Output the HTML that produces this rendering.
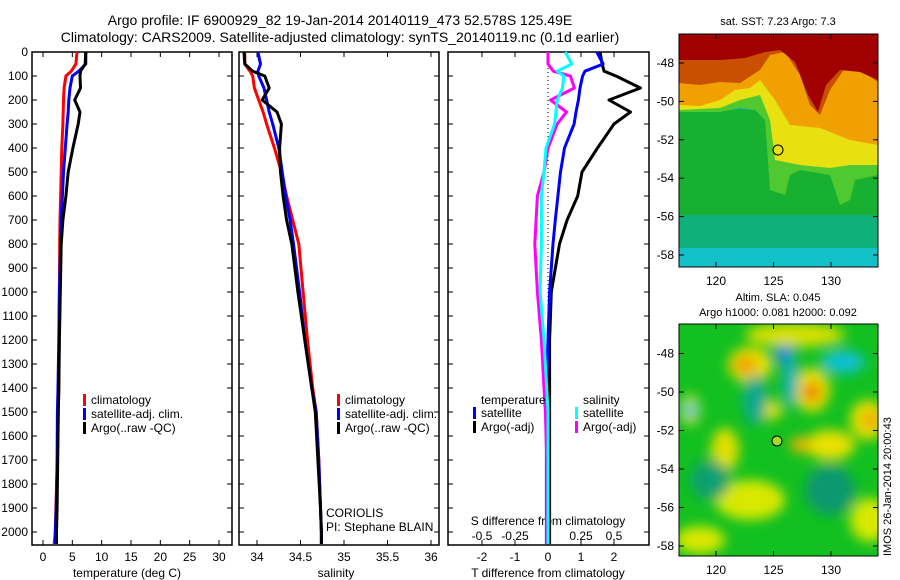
<!DOCTYPE html>
<html><head><meta charset="utf-8">
<style>
html,body{margin:0;padding:0;background:#fff;}
svg{display:block;font-family:"Liberation Sans",sans-serif;}
text{font-size:12px;fill:#000;}
</style></head>
<body>
<svg id="fig" width="900" height="580" viewBox="0 0 900 580" xmlns="http://www.w3.org/2000/svg">
<defs>
<filter id="blur6" x="-30%" y="-30%" width="160%" height="160%"><feGaussianBlur stdDeviation="6"/></filter>
<filter id="blur2"><feGaussianBlur stdDeviation="1.5"/></filter>
<clipPath id="clipTop"><rect x="679" y="34" width="199" height="233"/></clipPath>
<clipPath id="clipBot"><rect x="679" y="324" width="199" height="232"/></clipPath>
</defs>
<text x="340" y="25" text-anchor="middle" style="font-size:14px">Argo profile: IF 6900929_82 19-Jan-2014 20140119_473 52.578S 125.49E</text>
<text x="340" y="42" text-anchor="middle" style="font-size:14px">Climatology: CARS2009. Satellite-adjusted climatology: synTS_20140119.nc (0.1d earlier)</text>

<!-- SST map -->
<g clip-path="url(#clipTop)">
<rect x="679" y="34" width="199" height="233" fill="#10b07a"/>
<rect x="679" y="248" width="199" height="19" fill="#14c0c8"/>
<path d="M679 110 L878 110 L878 215 L679 215Z" fill="#18b030"/>
<path d="M679 112 L720 112 L740 108 L755 110 L765 120 L770 190 L785 195 L790 175 L800 170 L830 175 L840 205 L850 200 L855 180 L878 175 L878 34 L679 34Z" fill="#50c830"/>
<path d="M679 110 L720 108 L740 100 L760 95 L770 120 L775 160 L800 165 L830 168 L850 165 L878 165 L878 34 L679 34Z" fill="#e8e010"/>
<path d="M679 105 L700 106 L720 100 L735 90 L750 88 L760 80 L775 100 L790 125 L820 128 L850 140 L878 145 L878 34 L679 34Z" fill="#f0a000"/>
<path d="M679 83 L700 85 L720 82 L740 83 L760 70 L770 55 L785 52 L800 75 L810 105 L820 115 L830 90 L845 68 L860 70 L878 82 L878 34 L679 34Z" fill="#c85000"/>
<path d="M679 60 L720 60 L745 58 L765 52 L780 50 L795 62 L808 95 L818 112 L826 85 L840 70 L860 72 L878 80 L878 34 L679 34Z" fill="#a00000"/>
</g>
<rect x="679" y="34" width="199" height="233" fill="none" stroke="#000"/>
<circle cx="778" cy="150" r="5" fill="none" stroke="#000"/>
<text x="778" y="25" text-anchor="middle" style="font-size:11px">sat. SST: 7.23 Argo: 7.3</text>
<text x="778" y="301" text-anchor="middle" style="font-size:11px">Altim. SLA: 0.045</text>
<text x="778" y="316" text-anchor="middle" style="font-size:11px">Argo h1000: 0.081 h2000: 0.092</text>

<!-- SLA map -->
<g clip-path="url(#clipBot)">
<rect x="679" y="324" width="199" height="232" fill="#12c020"/>
<g filter="url(#blur6)">
<ellipse cx="750" cy="365" rx="22" ry="18" fill="#e8e000"/>
<ellipse cx="745" cy="365" rx="12" ry="9" fill="#f0a000"/>
<ellipse cx="812" cy="390" rx="18" ry="22" fill="#e8e000"/>
<ellipse cx="812" cy="392" rx="9" ry="10" fill="#f08000"/>
<ellipse cx="868" cy="420" rx="18" ry="20" fill="#e8e000"/>
<ellipse cx="870" cy="420" rx="8" ry="9" fill="#f0a000"/>
<ellipse cx="795" cy="335" rx="50" ry="12" fill="#d8e000"/>
<ellipse cx="830" cy="445" rx="25" ry="15" fill="#e8e000"/>
<ellipse cx="800" cy="445" rx="10" ry="8" fill="#f0b000"/>
<ellipse cx="725" cy="450" rx="14" ry="22" fill="#e0e000"/>
<ellipse cx="770" cy="410" rx="12" ry="10" fill="#e0e000"/>
<ellipse cx="750" cy="500" rx="35" ry="20" fill="#d8e800"/>
<ellipse cx="690" cy="410" rx="10" ry="15" fill="#e0e000"/>
<ellipse cx="700" cy="540" rx="25" ry="14" fill="#d8e800"/>
<ellipse cx="870" cy="520" rx="20" ry="22" fill="#d8e800"/>
<ellipse cx="785" cy="355" rx="10" ry="10" fill="#1080e0"/>
<ellipse cx="790" cy="380" rx="8" ry="28" fill="#10b0b0"/>
<ellipse cx="843" cy="362" rx="22" ry="12" fill="#10c0d0"/>
<ellipse cx="690" cy="410" rx="8" ry="8" fill="#20c8c8"/>
<ellipse cx="755" cy="400" rx="12" ry="25" fill="#10a890"/>
<ellipse cx="830" cy="490" rx="25" ry="25" fill="#109870"/>
<ellipse cx="710" cy="480" rx="20" ry="20" fill="#10a070"/>
</g>
</g>
<rect x="679" y="324" width="199" height="232" fill="none" stroke="#000"/>
<circle cx="777" cy="441" r="5" fill="#a0e020" stroke="#000"/>
<text transform="translate(891,556) rotate(-90)" style="font-size:11px">IMOS 26-Jan-2014 20:00:43</text>

<g id="plots"></g>
</svg>
<script>
// Profile data
const depths   = [0, 50, 80, 100, 150, 200, 250, 300, 400, 500, 600, 700, 800, 1000, 1200, 1400, 1500, 1700, 1900, 2000, 2050];
const tempClim = [5.8, 5.6, 4.8, 3.9, 3.6, 3.5, 3.45, 3.4, 3.2, 3.1, 3.0, 2.9, 2.85, 2.8, 2.75, 2.7, 2.6, 2.45, 2.2, 2.1, 1.9];
const tempSat  = [7.3, 7.3, 6.1, 5.0, 4.6, 4.4, 4.3, 4.1, 3.8, 3.5, 3.3, 3.1, 3.0, 2.8, 2.7, 2.55, 2.45, 2.4, 2.25, 2.1, 2.1];
const tempArgo = [7.3, 7.2, 6.4, 6.3, 6.4, 5.4, 6.3, 6.0, 5.1, 4.3, 3.9, 3.4, 3.1, 2.95, 2.8, 2.7, 2.6, 2.5, 2.4, 2.3, 2.3];
const salClim  = [33.86, 33.86, 33.92, 33.95, 33.97, 34.02, 34.07, 34.11, 34.20, 34.28, 34.34, 34.41, 34.48, 34.53, 34.58, 34.64, 34.68, 34.71, 34.73, 34.74, 34.74];
const salSat   = [34.01, 34.04, 34.01, 34.02, 34.08, 34.11, 34.14, 34.18, 34.25, 34.29, 34.33, 34.38, 34.42, 34.49, 34.55, 34.63, 34.68, 34.71, 34.73, 34.74, 34.74];
const salArgo  = [33.85, 33.86, 33.95, 34.09, 34.14, 34.06, 34.23, 34.28, 34.26, 34.27, 34.30, 34.34, 34.40, 34.47, 34.55, 34.63, 34.67, 34.70, 34.73, 34.74, 34.74];
const dtSat    = [1.48, 1.67, 1.12, 1.05, 0.97, 0.92, 0.85, 0.79, 0.5, 0.38, 0.3, 0.22, 0.15, 0.05, 0.0, -0.05, -0.05, -0.05, -0.05, -0.05, -0.05];
const dtArgo   = [1.58, 1.64, 1.7, 2.06, 2.8, 1.85, 2.5, 2.0, 1.5, 1.03, 0.9, 0.58, 0.35, 0.1, 0.05, 0.05, 0.05, 0.05, 0.05, 0.05, 0.05];
const dsSat    = [0.13, 0.18, 0.07, 0.12, 0.11, 0.07, 0.06, 0.05, -0.015, -0.03, -0.05, -0.05, -0.05, -0.06, -0.03, -0.01, 0.0, 0.0, 0.0, 0.0, 0.0];
const dsArgo   = [0.0, 0.0, 0.04, 0.17, 0.2, 0.02, 0.14, 0.07, 0.0, -0.03, -0.08, -0.09, -0.1, -0.08, -0.05, -0.03, -0.02, -0.01, -0.01, -0.01, -0.01];
const depthTicks = [0,100,200,300,400,500,600,700,800,900,1000,1100,1200,1300,1400,1500,1600,1700,1800,1900,2000];
const tempTicks = [0,5,10,15,20,25,30];
const salTicks = [34,34.5,35,35.5,36];
const salTickLabels = ["34","34.5","35","35.5","36"];
const dtTicks = [-2,-1,0,1,2];
const dsTicks = [-0.5,-0.25,0,0.25,0.5];
const dsTickLabels = ["-0.5","-0.25","0","0.25","0.5"];

const NS = "http://www.w3.org/2000/svg";
const root = document.getElementById('plots');
const Y0 = 52, Y1 = 545;
function yD(d){ return 52 + d*0.24; }
function xT(t){ return 43 + t*5.867; }
function xS(s){ return 257 + (s-34)*87; }
function xDT(v){ return 548 + v*33; }
function xDS(v){ return 548 + v*132; }
function mk(tag, attrs, parent){ const e=document.createElementNS(NS,tag); for(const k in attrs) e.setAttribute(k,attrs[k]); (parent||root).appendChild(e); return e; }
function line(xs, xf, color, name){
  const pts = depths.map((d,i)=> xf(xs[i]).toFixed(1)+','+yD(d).toFixed(1)).join(' ');
  const el = mk('polyline',{points:pts,fill:'none',stroke:color,'stroke-width':3,'stroke-linejoin':'round'});
  
  
}
function txt(x,y,s,anchor,name,size){
  const el = mk('text',{x:x,y:y,'text-anchor':anchor||'start'});
  if(size) el.setAttribute('style','font-size:'+size+'px');
  el.textContent = s;
  
  
  return el;
}
function frame(x0,x1,name){
  const el = mk('rect',{x:x0,y:Y0,width:x1-x0,height:Y1-Y0,fill:'none',stroke:'#000','stroke-width':1.5});
  
  
  depthTicks.forEach(d=>{
    mk('line',{x1:x0,x2:x0+5,y1:yD(d),y2:yD(d),stroke:'#000'});
    mk('line',{x1:x1-5,x2:x1,y1:yD(d),y2:yD(d),stroke:'#000'});
  });
}
function legendEntry(x,y,color,label,name){
  mk('rect',{x:x,y:y-10,width:3,height:12,fill:color});
  txt(x+8,y,label,'start',name);
}

// Panel 1: temperature
frame(32,232,'temperature-panel');
depthTicks.forEach(d=> txt(28,yD(d)+4,String(d),'end','depth-tick-label'));
tempTicks.forEach(t=>{ mk('line',{x1:xT(t),x2:xT(t),y1:Y1,y2:Y1-5,stroke:'#000'}); mk('line',{x1:xT(t),x2:xT(t),y1:Y0,y2:Y0+5,stroke:'#000'}); txt(xT(t),561,String(t),'middle','temperature-tick-label'); });
txt(127,577,'temperature (deg C)','middle','temperature-axis-title');
line(tempClim,xT,'#ff0000','temp-climatology-line');
line(tempSat,xT,'#0000ff','temp-satellite-line');
line(tempArgo,xT,'#000000','temp-argo-line');
legendEntry(83,404,'#ff0000','climatology','legend-climatology');
legendEntry(83,418,'#0000ff','satellite-adj. clim.','legend-satellite');
legendEntry(83,432,'#000000','Argo(..raw -QC)','legend-argo');

// Panel 2: salinity
frame(239,439,'salinity-panel');
salTicks.forEach((s,i)=>{ mk('line',{x1:xS(s),x2:xS(s),y1:Y1,y2:Y1-5,stroke:'#000'}); mk('line',{x1:xS(s),x2:xS(s),y1:Y0,y2:Y0+5,stroke:'#000'}); txt(xS(s),561,salTickLabels[i],'middle','salinity-tick-label'); });
txt(336,577,'salinity','middle','salinity-axis-title');
line(salClim,xS,'#ff0000','sal-climatology-line');
line(salSat,xS,'#0000ff','sal-satellite-line');
line(salArgo,xS,'#000000','sal-argo-line');
legendEntry(337,404,'#ff0000','climatology','legend-climatology-2');
legendEntry(337,418,'#0000ff','satellite-adj. clim.','legend-satellite-2');
legendEntry(337,432,'#000000','Argo(..raw -QC)','legend-argo-2');
txt(326,517,'CORIOLIS','start','data-centre-label');
txt(326,531,'PI: Stephane BLAIN','start','pi-label');

// Panel 3: differences
frame(448,649,'difference-panel');
mk('line',{x1:xDT(0),x2:xDT(0),y1:Y0,y2:Y1,stroke:'#000','stroke-dasharray':'1,3'});
dtTicks.forEach(v=>{ mk('line',{x1:xDT(v),x2:xDT(v),y1:Y1,y2:Y1-5,stroke:'#000'}); mk('line',{x1:xDT(v),x2:xDT(v),y1:Y0,y2:Y0+5,stroke:'#000'}); txt(xDT(v),561,String(v),'middle','t-diff-tick-label'); });
dsTicks.forEach((v,i)=> txt(xDS(v),540,dsTickLabels[i],'middle','s-diff-tick-label'));
txt(548,525,'S difference from climatology','middle','s-diff-axis-title');
txt(548,577,'T difference from climatology','middle','t-diff-axis-title');
line(dtArgo,xDT,'#000000','t-diff-argo-line');
line(dtSat,xDT,'#0000ff','t-diff-satellite-line');
line(dsArgo,xDS,'#ff00ff','s-diff-argo-line');
line(dsSat,xDS,'#00ffff','s-diff-satellite-line');
txt(481,404,'temperature','start','legend-temperature-heading');
legendEntry(473,417,'#0000ff','satellite','legend-t-satellite');
legendEntry(473,431,'#000000','Argo(-adj)','legend-t-argo');
txt(583,404,'salinity','start','legend-salinity-heading');
legendEntry(575,417,'#00ffff','satellite','legend-s-satellite');
legendEntry(575,431,'#ff00ff','Argo(-adj)','legend-s-argo');

// Map axes
const latTicks = [-48,-50,-52,-54,-56,-58];
const lonTicks = [120,125,130];
function mapAxes(top, lat0y, ppd, bottom, lonLabelY, name){
  latTicks.forEach(l=>{
    const y = lat0y + (-48 - l)*ppd;
    if(y<top||y>bottom) return;
    mk('line',{x1:878,x2:873,y1:y,y2:y,stroke:'#000'});
    mk('line',{x1:679,x2:684,y1:y,y2:y,stroke:'#000'});
    txt(674,y+4,String(l),'end',name+'-lat-label');
  });
  lonTicks.forEach(l=>{
    const x = 716 + (l-120)*11.5;
    mk('line',{x1:x,x2:x,y1:bottom,y2:bottom-5,stroke:'#000'});
    mk('line',{x1:x,x2:x,y1:top,y2:top+5,stroke:'#000'});
    txt(x,lonLabelY,String(l),'middle',name+'-lon-label');
  });
}
mapAxes(34,63,19.2,267,285,'sst-map');
mapAxes(324,353.5,19.25,556,574,'sla-map');
</script>
</body></html>
